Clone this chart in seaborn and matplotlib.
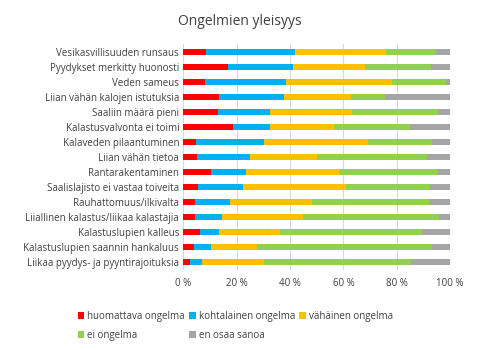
import pandas as pd
import numpy as np
import matplotlib
matplotlib.use("Agg")
import matplotlib.pyplot as plt
import seaborn as sns
from matplotlib.patches import Patch

# Data (percentages)
categories = [
    "Vesikasvillisuuden runsaus",
    "Pyydykset merkitty huonosti",
    "Veden sameus",
    "Liian vähän kalojen istutuksia",
    "Saaliin määrä pieni",
    "Kalastusvalvonta ei toimi",
    "Kalaveden pilaantuminen",
    "Liian vähän tietoa",
    "Rantarakentaminen",
    "Saalislajisto ei vastaa toiveita",
    "Rauhattomuus/ilkivalta",
    "Liiallinen kalastus/liikaa kalastajia",
    "Kalastuslupien kalleus",
    "Kalastuslupien saannin hankaluus",
    "Liikaa pyydys- ja pyyntirajoituksia",
]
huomattava = [8.4, 16.7, 8.1, 13.3, 13.0, 18.6, 4.7, 5.1, 10.3, 5.5, 4.4, 4.4, 6.2, 4.0, 2.5]
kohtalainen = [33.4, 24.3, 30.3, 24.4, 19.4, 13.8, 25.5, 19.8, 13.1, 16.8, 13.1, 10.1, 7.1, 6.3, 4.5]
vahainen = [34.0, 27.0, 39.7, 25.0, 30.7, 24.0, 38.8, 25.3, 35.0, 38.5, 30.6, 30.5, 22.9, 17.3, 23.2]
ei_ongelma = [18.7, 24.9, 20.4, 12.7, 32.4, 28.4, 24.1, 41.1, 37.1, 31.6, 44.0, 50.9, 53.3, 65.5, 55.1]
en_osaa = [100 - a - b - c - d for a, b, c, d in zip(huomattava, kohtalainen, vahainen, ei_ongelma)]

series_names = ["huomattava ongelma", "kohtalainen ongelma", "vähäinen ongelma",
                "ei ongelma", "en osaa sanoa"]
series_vals = [huomattava, kohtalainen, vahainen, ei_ongelma, en_osaa]
colors = ["#FF0000", "#00B0F0", "#FFC000", "#92D050", "#A5A5A5"]

df = pd.DataFrame({"Ongelma": categories})
for name, vals in zip(series_names, series_vals):
    df[name] = vals
cum = df[series_names].cumsum(axis=1)

sns.set_style("white")
plt.rcParams["font.family"] = ["Open Sans", "DejaVu Sans"]

fig = plt.figure(figsize=(4.8, 3.5), dpi=100)
ax = fig.add_axes([0.382, 0.23, 0.556, 0.643])

# draw cumulative layers from the right end backwards
for name, color in reversed(list(zip(series_names, colors))):
    sns.barplot(x=cum[name], y=df["Ongelma"], color=color, width=0.4,
                orient="h", ax=ax, saturation=1, edgecolor="none")

ax.set_xlim(0, 100)
ax.set_xticks(range(0, 101, 20))
ax.set_xticklabels([f"{t} %" for t in range(0, 101, 20)])
ax.xaxis.grid(True, color="#D9D9D9", linewidth=0.8)
ax.set_axisbelow(True)
ax.set_xlabel("")
ax.set_ylabel("")
for s in ax.spines.values():
    s.set_visible(False)
ax.tick_params(axis="both", length=0, labelsize=7, colors="#404040", pad=3)
ax.tick_params(axis="x", pad=6)

fig.suptitle("Ongelmien yleisyys", x=0.5, y=0.96, fontsize=10, color="#404040")

# legend filled column by column: put items so rows read left to right
handles = [Patch(facecolor=c, edgecolor="none") for c in colors]
order = [0, 3, 1, 4, 2]
fig.legend([handles[i] for i in order], [series_names[i] for i in order],
           loc="lower center", bbox_to_anchor=(0.49, 0.0),
           ncol=3, frameon=False, fontsize=7, labelcolor="#404040",
           handlelength=0.7, handleheight=0.7, handletextpad=0.3,
           columnspacing=0.4, labelspacing=0.9)

fig.savefig("out.png", dpi=100)
